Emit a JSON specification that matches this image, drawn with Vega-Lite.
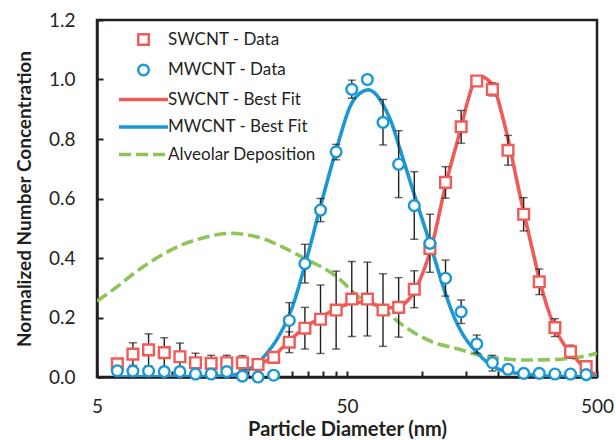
{
  "$schema": "https://vega.github.io/schema/vega-lite/v6.json",
  "autosize": {"type": "none"},
  "padding": {"left": 97, "top": 20, "right": 19, "bottom": 63},
  "width": 500,
  "height": 357,
  "background": "white",
  "config": {
    "view": {"stroke": "#231f20", "strokeWidth": 2.5},
    "axis": {
      "grid": false,
      "labelFont": "Lato",
      "labelFontSize": 19,
      "labelColor": "#231f20",
      "titleFont": "Lato",
      "titleFontSize": 19,
      "titleFontWeight": "bold",
      "titleColor": "#231f20",
      "domainColor": "#231f20",
      "domainWidth": 2.5,
      "tickColor": "#231f20",
      "tickWidth": 2,
      "tickSize": -6
    },
    "legend": {
      "labelFont": "Lato",
      "labelFontSize": 17,
      "labelColor": "#231f20"
    }
  },
  "datasets": {
    "points": [
      {"d": 6.03, "v": 0.044, "lo": 0.027, "hi": 0.061, "series": "SWCNT - Data"},
      {"d": 6.96, "v": 0.077, "lo": 0.039, "hi": 0.115, "series": "SWCNT - Data"},
      {"d": 8.04, "v": 0.091, "lo": 0.037, "hi": 0.145, "series": "SWCNT - Data"},
      {"d": 9.29, "v": 0.082, "lo": 0.032, "hi": 0.132, "series": "SWCNT - Data"},
      {"d": 10.73, "v": 0.068, "lo": 0.022, "hi": 0.114, "series": "SWCNT - Data"},
      {"d": 12.39, "v": 0.048, "lo": 0.016, "hi": 0.080, "series": "SWCNT - Data"},
      {"d": 14.31, "v": 0.046, "lo": 0.019, "hi": 0.073, "series": "SWCNT - Data"},
      {"d": 16.52, "v": 0.048, "lo": 0.023, "hi": 0.073, "series": "SWCNT - Data"},
      {"d": 19.08, "v": 0.048, "lo": 0.024, "hi": 0.072, "series": "SWCNT - Data"},
      {"d": 22.03, "v": 0.042, "lo": 0.032, "hi": 0.052, "series": "SWCNT - Data"},
      {"d": 25.44, "v": 0.066, "lo": 0.056, "hi": 0.076, "series": "SWCNT - Data"},
      {"d": 29.38, "v": 0.117, "lo": 0.082, "hi": 0.152, "series": "SWCNT - Data"},
      {"d": 33.93, "v": 0.164, "lo": 0.094, "hi": 0.234, "series": "SWCNT - Data"},
      {"d": 39.18, "v": 0.194, "lo": 0.079, "hi": 0.309, "series": "SWCNT - Data"},
      {"d": 45.24, "v": 0.225, "lo": 0.094, "hi": 0.356, "series": "SWCNT - Data"},
      {"d": 52.25, "v": 0.262, "lo": 0.136, "hi": 0.388, "series": "SWCNT - Data"},
      {"d": 60.33, "v": 0.262, "lo": 0.138, "hi": 0.386, "series": "SWCNT - Data"},
      {"d": 69.67, "v": 0.225, "lo": 0.103, "hi": 0.347, "series": "SWCNT - Data"},
      {"d": 80.46, "v": 0.234, "lo": 0.134, "hi": 0.334, "series": "SWCNT - Data"},
      {"d": 92.91, "v": 0.295, "lo": 0.233, "hi": 0.357, "series": "SWCNT - Data"},
      {"d": 107.3, "v": 0.432, "lo": 0.412, "hi": 0.452, "series": "SWCNT - Data"},
      {"d": 123.9, "v": 0.654, "lo": 0.601, "hi": 0.707, "series": "SWCNT - Data"},
      {"d": 143.1, "v": 0.841, "lo": 0.786, "hi": 0.896, "series": "SWCNT - Data"},
      {"d": 165.2, "v": 0.995, "lo": 0.978, "hi": 1.012, "series": "SWCNT - Data"},
      {"d": 190.8, "v": 0.967, "lo": 0.945, "hi": 0.989, "series": "SWCNT - Data"},
      {"d": 220.3, "v": 0.762, "lo": 0.712, "hi": 0.812, "series": "SWCNT - Data"},
      {"d": 254.4, "v": 0.547, "lo": 0.491, "hi": 0.603, "series": "SWCNT - Data"},
      {"d": 293.8, "v": 0.320, "lo": 0.277, "hi": 0.363, "series": "SWCNT - Data"},
      {"d": 339.3, "v": 0.166, "lo": 0.136, "hi": 0.196, "series": "SWCNT - Data"},
      {"d": 391.8, "v": 0.085, "lo": 0.063, "hi": 0.107, "series": "SWCNT - Data"},
      {"d": 452.4, "v": 0.035, "lo": 0.025, "hi": 0.045, "series": "SWCNT - Data"},
      {"d": 6.03, "v": 0.021, "series": "MWCNT - Data"},
      {"d": 6.96, "v": 0.020, "series": "MWCNT - Data"},
      {"d": 8.04, "v": 0.020, "series": "MWCNT - Data"},
      {"d": 9.29, "v": 0.018, "series": "MWCNT - Data"},
      {"d": 10.73, "v": 0.018, "series": "MWCNT - Data"},
      {"d": 12.39, "v": 0.010, "series": "MWCNT - Data"},
      {"d": 14.31, "v": 0.010, "series": "MWCNT - Data"},
      {"d": 16.52, "v": 0.018, "series": "MWCNT - Data"},
      {"d": 19.08, "v": 0.003, "series": "MWCNT - Data"},
      {"d": 22.03, "v": 0.000, "series": "MWCNT - Data"},
      {"d": 25.44, "v": 0.006, "series": "MWCNT - Data"},
      {"d": 29.38, "v": 0.190, "lo": 0.130, "hi": 0.250, "series": "MWCNT - Data"},
      {"d": 33.93, "v": 0.381, "lo": 0.316, "hi": 0.446, "series": "MWCNT - Data"},
      {"d": 39.18, "v": 0.561, "lo": 0.522, "hi": 0.600, "series": "MWCNT - Data"},
      {"d": 45.24, "v": 0.757, "lo": 0.730, "hi": 0.782, "series": "MWCNT - Data"},
      {"d": 52.25, "v": 0.967, "lo": 0.937, "hi": 0.998, "series": "MWCNT - Data"},
      {"d": 60.33, "v": 1.000, "series": "MWCNT - Data"},
      {"d": 69.67, "v": 0.856, "lo": 0.780, "hi": 0.933, "series": "MWCNT - Data"},
      {"d": 80.46, "v": 0.715, "lo": 0.603, "hi": 0.828, "series": "MWCNT - Data"},
      {"d": 92.91, "v": 0.576, "lo": 0.463, "hi": 0.690, "series": "MWCNT - Data"},
      {"d": 107.3, "v": 0.449, "lo": 0.352, "hi": 0.547, "series": "MWCNT - Data"},
      {"d": 123.9, "v": 0.332, "lo": 0.272, "hi": 0.393, "series": "MWCNT - Data"},
      {"d": 143.1, "v": 0.219, "lo": 0.180, "hi": 0.259, "series": "MWCNT - Data"},
      {"d": 165.2, "v": 0.111, "lo": 0.080, "hi": 0.141, "series": "MWCNT - Data"},
      {"d": 190.8, "v": 0.048, "lo": 0.020, "hi": 0.073, "series": "MWCNT - Data"},
      {"d": 220.3, "v": 0.026, "lo": 0.012, "hi": 0.040, "series": "MWCNT - Data"},
      {"d": 254.4, "v": 0.012, "series": "MWCNT - Data"},
      {"d": 293.8, "v": 0.012, "series": "MWCNT - Data"},
      {"d": 339.3, "v": 0.010, "series": "MWCNT - Data"},
      {"d": 391.8, "v": 0.010, "series": "MWCNT - Data"},
      {"d": 452.4, "v": 0.008, "series": "MWCNT - Data"}
    ],
    "curves": [
      {"d": 5.0, "v": 0.255, "series": "Alveolar Deposition"},
      {"d": 5.9, "v": 0.298, "series": "Alveolar Deposition"},
      {"d": 6.89, "v": 0.343, "series": "Alveolar Deposition"},
      {"d": 8.02, "v": 0.382, "series": "Alveolar Deposition"},
      {"d": 9.35, "v": 0.416, "series": "Alveolar Deposition"},
      {"d": 10.91, "v": 0.444, "series": "Alveolar Deposition"},
      {"d": 12.71, "v": 0.463, "series": "Alveolar Deposition"},
      {"d": 14.83, "v": 0.477, "series": "Alveolar Deposition"},
      {"d": 17.29, "v": 0.483, "series": "Alveolar Deposition"},
      {"d": 20.15, "v": 0.477, "series": "Alveolar Deposition"},
      {"d": 23.5, "v": 0.463, "series": "Alveolar Deposition"},
      {"d": 27.41, "v": 0.438, "series": "Alveolar Deposition"},
      {"d": 32.95, "v": 0.404, "series": "Alveolar Deposition"},
      {"d": 45.5, "v": 0.337, "series": "Alveolar Deposition"},
      {"d": 56.4, "v": 0.266, "series": "Alveolar Deposition"},
      {"d": 70.3, "v": 0.228, "series": "Alveolar Deposition"},
      {"d": 80.0, "v": 0.186, "series": "Alveolar Deposition"},
      {"d": 93.5, "v": 0.147, "series": "Alveolar Deposition"},
      {"d": 109.1, "v": 0.119, "series": "Alveolar Deposition"},
      {"d": 143.8, "v": 0.091, "series": "Alveolar Deposition"},
      {"d": 157.7, "v": 0.080, "series": "Alveolar Deposition"},
      {"d": 195.4, "v": 0.065, "series": "Alveolar Deposition"},
      {"d": 249.9, "v": 0.057, "series": "Alveolar Deposition"},
      {"d": 339.6, "v": 0.059, "series": "Alveolar Deposition"},
      {"d": 434.2, "v": 0.068, "series": "Alveolar Deposition"},
      {"d": 500, "v": 0.080, "series": "Alveolar Deposition"},
      {"d": 6.03, "v": 0.0, "series": "SWCNT - Best Fit"},
      {"d": 12.4, "v": 0.0, "series": "SWCNT - Best Fit"},
      {"d": 16.5, "v": 0.004, "series": "SWCNT - Best Fit"},
      {"d": 19.1, "v": 0.015, "series": "SWCNT - Best Fit"},
      {"d": 22.0, "v": 0.040, "series": "SWCNT - Best Fit"},
      {"d": 25.4, "v": 0.070, "series": "SWCNT - Best Fit"},
      {"d": 29.4, "v": 0.122, "series": "SWCNT - Best Fit"},
      {"d": 34.3, "v": 0.169, "series": "SWCNT - Best Fit"},
      {"d": 39.2, "v": 0.200, "series": "SWCNT - Best Fit"},
      {"d": 45.5, "v": 0.231, "series": "SWCNT - Best Fit"},
      {"d": 52.2, "v": 0.248, "series": "SWCNT - Best Fit"},
      {"d": 60.0, "v": 0.252, "series": "SWCNT - Best Fit"},
      {"d": 70.3, "v": 0.232, "series": "SWCNT - Best Fit"},
      {"d": 80.7, "v": 0.237, "series": "SWCNT - Best Fit"},
      {"d": 87.7, "v": 0.258, "series": "SWCNT - Best Fit"},
      {"d": 93.5, "v": 0.292, "series": "SWCNT - Best Fit"},
      {"d": 100.7, "v": 0.352, "series": "SWCNT - Best Fit"},
      {"d": 108.4, "v": 0.432, "series": "SWCNT - Best Fit"},
      {"d": 124.5, "v": 0.651, "series": "SWCNT - Best Fit"},
      {"d": 143.8, "v": 0.847, "series": "SWCNT - Best Fit"},
      {"d": 152.4, "v": 0.931, "series": "SWCNT - Best Fit"},
      {"d": 162.6, "v": 0.996, "series": "SWCNT - Best Fit"},
      {"d": 172.9, "v": 1.009, "series": "SWCNT - Best Fit"},
      {"d": 183.2, "v": 0.998, "series": "SWCNT - Best Fit"},
      {"d": 195.4, "v": 0.965, "series": "SWCNT - Best Fit"},
      {"d": 207.9, "v": 0.886, "series": "SWCNT - Best Fit"},
      {"d": 222.3, "v": 0.786, "series": "SWCNT - Best Fit"},
      {"d": 238.7, "v": 0.662, "series": "SWCNT - Best Fit"},
      {"d": 255.3, "v": 0.550, "series": "SWCNT - Best Fit"},
      {"d": 274.1, "v": 0.438, "series": "SWCNT - Best Fit"},
      {"d": 295.8, "v": 0.320, "series": "SWCNT - Best Fit"},
      {"d": 319.3, "v": 0.225, "series": "SWCNT - Best Fit"},
      {"d": 342.8, "v": 0.158, "series": "SWCNT - Best Fit"},
      {"d": 372.4, "v": 0.105, "series": "SWCNT - Best Fit"},
      {"d": 396.0, "v": 0.080, "series": "SWCNT - Best Fit"},
      {"d": 427.6, "v": 0.046, "series": "SWCNT - Best Fit"},
      {"d": 461.5, "v": 0.020, "series": "SWCNT - Best Fit"},
      {"d": 500, "v": 0.008, "series": "SWCNT - Best Fit"},
      {"d": 6.03, "v": 0.0, "series": "MWCNT - Best Fit"},
      {"d": 17.0, "v": 0.003, "series": "MWCNT - Best Fit"},
      {"d": 19.2, "v": 0.018, "series": "MWCNT - Best Fit"},
      {"d": 21.8, "v": 0.044, "series": "MWCNT - Best Fit"},
      {"d": 23.9, "v": 0.080, "series": "MWCNT - Best Fit"},
      {"d": 27.0, "v": 0.145, "series": "MWCNT - Best Fit"},
      {"d": 29.6, "v": 0.215, "series": "MWCNT - Best Fit"},
      {"d": 34.3, "v": 0.390, "series": "MWCNT - Best Fit"},
      {"d": 39.2, "v": 0.575, "series": "MWCNT - Best Fit"},
      {"d": 45.5, "v": 0.770, "series": "MWCNT - Best Fit"},
      {"d": 52.2, "v": 0.920, "series": "MWCNT - Best Fit"},
      {"d": 56.4, "v": 0.954, "series": "MWCNT - Best Fit"},
      {"d": 60.9, "v": 0.965, "series": "MWCNT - Best Fit"},
      {"d": 65.3, "v": 0.950, "series": "MWCNT - Best Fit"},
      {"d": 70.3, "v": 0.909, "series": "MWCNT - Best Fit"},
      {"d": 75.5, "v": 0.853, "series": "MWCNT - Best Fit"},
      {"d": 80.9, "v": 0.774, "series": "MWCNT - Best Fit"},
      {"d": 93.5, "v": 0.606, "series": "MWCNT - Best Fit"},
      {"d": 108.4, "v": 0.438, "series": "MWCNT - Best Fit"},
      {"d": 124.5, "v": 0.275, "series": "MWCNT - Best Fit"},
      {"d": 135.2, "v": 0.195, "series": "MWCNT - Best Fit"},
      {"d": 143.8, "v": 0.150, "series": "MWCNT - Best Fit"},
      {"d": 166.7, "v": 0.080, "series": "MWCNT - Best Fit"},
      {"d": 192.3, "v": 0.035, "series": "MWCNT - Best Fit"},
      {"d": 220.3, "v": 0.018, "series": "MWCNT - Best Fit"},
      {"d": 255.3, "v": 0.010, "series": "MWCNT - Best Fit"},
      {"d": 324.3, "v": 0.003, "series": "MWCNT - Best Fit"},
      {"d": 500, "v": 0.0, "series": "MWCNT - Best Fit"}
    ]
  },
  "encoding": {
    "x": {
      "field": "d", "type": "quantitative",
      "scale": {"type": "log", "domain": [5, 500], "nice": false},
      "axis": {
        "title": "Particle Diameter (nm)",
        "titleFontSize": 20,
        "values": [5, 10, 15, 20, 25, 30, 35, 40, 45, 50, 100, 150, 200, 250, 300, 350, 400, 450, 500],
        "labelExpr": "datum.value == 5 || datum.value == 50 || datum.value == 500 ? format(datum.value, 'd') : ''",
        "labelPadding": 26,
        "titlePadding": 3,
        "labelFlush": false
      }
    },
    "y": {
      "field": "v", "type": "quantitative",
      "scale": {"domain": [0, 1.2], "nice": false},
      "axis": {
        "title": "Normalized Number Concentration",
        "values": [0, 0.2, 0.4, 0.6, 0.8, 1.0, 1.2],
        "format": ".1f",
        "labelPadding": 28,
        "titlePadding": 14
      }
    }
  },
  "layer": [
    {
      "data": {"name": "curves"},
      "mark": {"type": "line", "interpolate": "monotone", "clip": true, "strokeWidth": 3.6},
      "encoding": {
        "color": {
          "field": "series", "type": "nominal",
          "scale": {
            "domain": ["SWCNT - Data", "MWCNT - Data", "SWCNT - Best Fit", "MWCNT - Best Fit", "Alveolar Deposition"],
            "range": ["#ef5b57", "#1b98d3", "#ef5b57", "#1b98d3", "#8dc55a"]
          },
          "legend": {
            "title": null,
            "orient": "none",
            "legendX": 38,
            "legendY": 11,
            "padding": 0,
            "symbolSize": 110,
            "labelOffset": 16,
            "rowPadding": 9.5,
            "encode": {
              "symbols": {
                "update": {
                  "strokeWidth": {"signal": "indexof(['SWCNT - Data', 'MWCNT - Data'], datum.value) >= 0 ? 2.4 : 3.6"},
                  "fill": {"value": "white"}
                }
              }
            }
          }
        },
        "strokeDash": {
          "field": "series", "type": "nominal",
          "scale": {
            "domain": ["SWCNT - Data", "MWCNT - Data", "SWCNT - Best Fit", "MWCNT - Best Fit", "Alveolar Deposition"],
            "range": [[1, 0], [1, 0], [1, 0], [1, 0], [12, 5]]
          }
        }
      }
    },
    {
      "data": {"name": "points"},
      "transform": [{"filter": "isValid(datum.hi)"}],
      "mark": {"type": "rule", "color": "#231f20", "strokeWidth": 1.4},
      "encoding": {
        "y": {"field": "lo", "type": "quantitative"},
        "y2": {"field": "hi"}
      }
    },
    {
      "data": {"name": "points"},
      "transform": [{"filter": "isValid(datum.hi)"}],
      "mark": {"type": "tick", "orient": "horizontal", "color": "#231f20", "size": 8, "thickness": 1.4},
      "encoding": {
        "y": {"field": "lo", "type": "quantitative"}
      }
    },
    {
      "data": {"name": "points"},
      "transform": [{"filter": "isValid(datum.hi)"}],
      "mark": {"type": "tick", "orient": "horizontal", "color": "#231f20", "size": 8, "thickness": 1.4},
      "encoding": {
        "y": {"field": "hi", "type": "quantitative"}
      }
    },
    {
      "data": {"name": "points"},
      "mark": {"type": "point", "filled": false, "fill": "white", "size": 115, "opacity": 1, "strokeWidth": 2.4},
      "encoding": {
        "color": {"field": "series", "type": "nominal"},
        "shape": {
          "field": "series", "type": "nominal",
          "scale": {
            "domain": ["SWCNT - Data", "MWCNT - Data", "SWCNT - Best Fit", "MWCNT - Best Fit", "Alveolar Deposition"],
            "range": ["square", "circle", "M-4.67,0H4.67", "M-4.67,0H4.67", "M-4.67,0H4.67"]
          }
        }
      }
    }
  ]
}
